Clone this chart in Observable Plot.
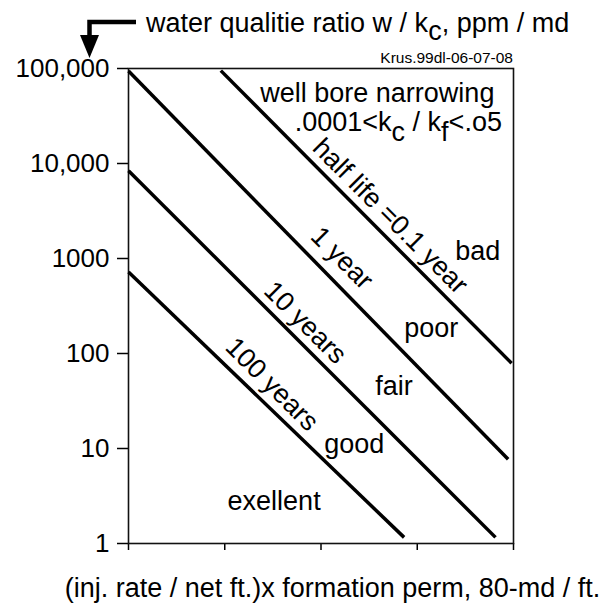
<!DOCTYPE html>
<html><head><meta charset="utf-8">
<script src="https://cdn.jsdelivr.net/npm/d3@7"></script>
<script src="https://cdn.jsdelivr.net/npm/@observablehq/plot@0.6"></script>
<style>body{margin:0;background:#fff;}</style>
</head><body><div id="chart"></div>
<script>
// ---- data ----
const curveNames  = ["half life =0.1 year", "1 year", "10 years", "100 years"];
const curveStartX = [9.1, 1, 1, 1];
const curveStartY = [95000, 94000, 8400, 720];
const curveEndX   = [9550, 8800, 6500, 730];
const curveEndY   = [79, 7.7, 1.16, 1.16];
const curveLabelX = [524, 165, 68.5, 30.9];
const curveLabelY = [2787, 1007, 211, 47.3];

const zoneNames = ["bad", "poor", "fair", "good", "exellent"];
const zoneX = [2479, 731, 366, 108, 10.7];
const zoneY = [976, 150, 36.4, 8.86, 2.24];

const noteLines = ["well bore narrowing"];
const noteX = [23.4];
const noteY = [44500];
const ratioX = 54, ratioY = 21500; // ".0001<kc / kf<.o5"

const yTicks = [1, 10, 100, 1000, 10000, 100000];
const yTickLabels = ["1", "10", "100", "1000", "10,000", "100,000"];
const xTicks = [1, 10, 100, 1000, 10000];

const xLabel = "(inj. rate / net ft.)x formation perm, 80-md / ft.";
const stamp = "Krus.99dl-06-07-08";

// ---- build ----
const FONT = "'Liberation Sans', Arial, Helvetica, sans-serif";
const FS = 27;
const curves = curveNames.flatMap((name, i) => [
  {name, x: curveStartX[i], y: curveStartY[i]},
  {name, x: curveEndX[i], y: curveEndY[i]}
]);
const curveLabels = curveNames.map((name, i) => ({name, x: curveLabelX[i], y: curveLabelY[i]}));
const zones = zoneNames.map((name, i) => ({name, x: zoneX[i], y: zoneY[i]}));
const notes = noteLines.map((name, i) => ({name, x: noteX[i], y: noteY[i]}));

const chart = Plot.plot({
  width: 605, height: 608,
  marginLeft: 128, marginRight: 92, marginTop: 68, marginBottom: 65,
  style: {fontSize: "26px", fontFamily: FONT, color: "#000", background: "#fff"},
  x: {type: "log", domain: [1, 10000]},
  y: {type: "log", domain: [1, 100000]},
  marks: [
    Plot.axisY({ticks: yTicks, tickFormat: d => yTickLabels[yTicks.indexOf(d)], tickSize: 11, tickPadding: 8, label: null, strokeWidth: 1.5, fontSize: 26}),
    Plot.axisX({ticks: xTicks, tickFormat: () => "", tickSize: 7, label: null, strokeWidth: 1.5}),
    Plot.frame({stroke: "#111", strokeWidth: 1.6}),
    Plot.line(curves, {x: "x", y: "y", z: "name", stroke: "#000", strokeWidth: 3.5, strokeLinecap: "butt"}),
    Plot.text(curveLabels, {x: "x", y: "y", text: "name", rotate: 45, fontSize: FS, lineAnchor: "middle", fill: "#000"}),
    Plot.text(zones, {x: "x", y: "y", text: "name", textAnchor: "start", lineAnchor: "bottom", fontSize: FS, fill: "#000"}),
    Plot.text(notes, {x: "x", y: "y", text: "name", textAnchor: "start", lineAnchor: "bottom", fontSize: FS, fill: "#000"})
  ]
});
document.getElementById("chart").appendChild(chart);

const sx = chart.scale("x"), sy = chart.scale("y");
const X = v => sx.apply(v), Y = v => sy.apply(v);
const svg = d3.select(chart);
const pTop = Y(100000), pLeft = X(1), pRight = X(10000), pBottom = Y(1);

// ratio line with subscripts
const r = svg.append("text").attr("x", X(ratioX)).attr("y", Y(ratioY))
  .attr("font-size", FS).attr("font-family", FONT).attr("text-anchor", "start").attr("fill", "#000");
r.append("tspan").text(".0001<k");
r.append("tspan").attr("dy", 10).text("c");
r.append("tspan").attr("dy", -10).text(" / k");
r.append("tspan").attr("dy", 10).text("f");
r.append("tspan").attr("dy", -10).text("<.o5");

// title with subscript
const t = svg.append("text").attr("x", pLeft + 18).attr("y", pTop - 36)
  .attr("font-size", FS).attr("font-family", FONT).attr("text-anchor", "start").attr("fill", "#000");
t.append("tspan").text("water qualitie ratio w / k");
t.append("tspan").attr("dy", 8).text("c");
t.append("tspan").attr("dy", -8).text(", ppm / md");

// arrow pointing down to the y axis top label
const ax = pLeft - 38.5, ay = pTop - 46;
svg.append("path")
  .attr("d", `M${pLeft + 8},${ay} H${ax} V${pTop - 32}`)
  .attr("fill", "none").attr("stroke", "#000").attr("stroke-width", 4.5);
svg.append("path")
  .attr("d", `M${ax - 9.5},${pTop - 33} L${ax + 9.5},${pTop - 33} L${ax},${pTop - 10} Z`)
  .attr("fill", "#000");

// stamp
svg.append("text").attr("x", pRight).attr("y", pTop - 5.5)
  .attr("font-size", 15.5).attr("font-family", FONT).attr("text-anchor", "end").attr("fill", "#000")
  .text(stamp);

// x axis label
svg.append("text").attr("x", (pLeft + pRight) / 2 + 12).attr("y", pBottom + 54)
  .attr("font-size", FS).attr("font-family", FONT).attr("text-anchor", "middle").attr("fill", "#000")
  .text(xLabel);
</script>
</body></html>
